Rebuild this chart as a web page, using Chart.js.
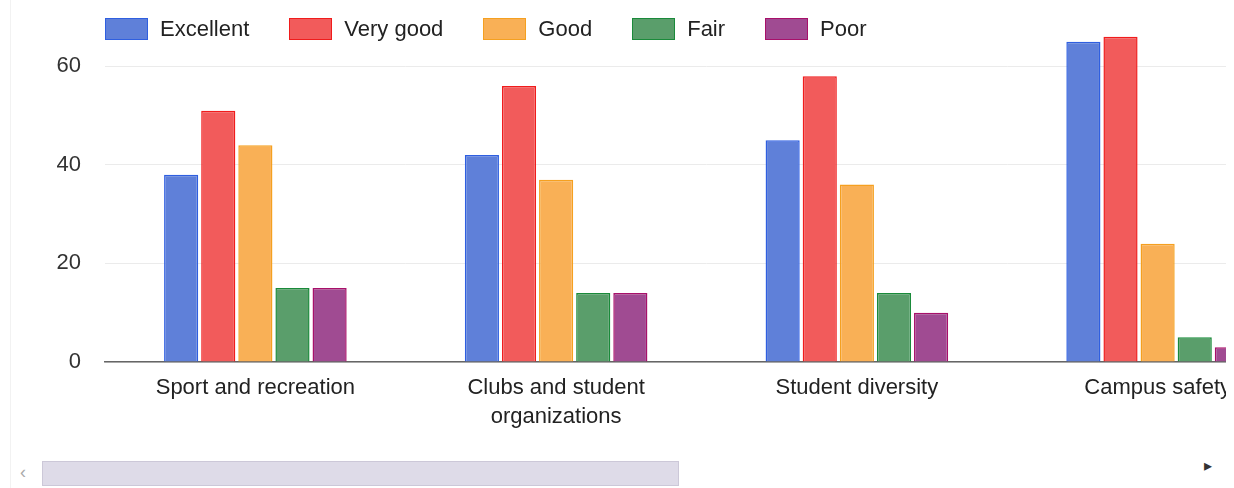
<!DOCTYPE html>
<html>
<head>
<meta charset="utf-8">
<script src="https://cdn.jsdelivr.net/npm/chart.js@4/dist/chart.umd.min.js"></script>
<style>
    html, body { margin: 0; padding: 0; background: #fff; }
    body { width: 1234px; height: 488px; position: relative; overflow: hidden; font-family: "Liberation Sans", Arial, sans-serif; }
    #viewport { position: absolute; left: 0; top: 0; width: 1226px; height: 440px; overflow: hidden; }
    #legend { position: absolute; left: 105px; top: 16px; display: flex; align-items: center; z-index: 2; font-size: 22px; color: #222; }
    .item { display: flex; align-items: center; margin-right: 40px; }
    .swatch { width: 41px; height: 20px; margin-right: 12px; border: 1px solid; }
    #thumb { position: absolute; left: 42px; top: 461px; width: 635px; height: 23px; background: #dedbe8; border: 1px solid #ccc8d8; }
    #left { position: absolute; left: 20px; top: 462px; font-size: 18px; color: #aaa; }
    #right { position: absolute; left: 1204px; top: 456px; font-size: 16px; color: #333; }
    #edge { position: absolute; left: 10px; top: 0; width: 1px; height: 488px; background: #f2f2f2; }
</style>
</head>
<body>
<div id="edge"></div>
<div id="viewport">
    <canvas id="barChart" width="1320" height="440"></canvas>
</div>
<div id="legend"></div>
<div id="thumb"></div>
<div id="left">&lsaquo;</div>
<div id="right">&#9656;</div>
<script>
var categories = ['Sport and recreation', ['Clubs and student', 'organizations'], 'Student diversity', 'Campus safety'];
var seriesNames = ['Excellent', 'Very good', 'Good', 'Fair', 'Poor'];
var excellent = [38, 42, 45, 65];
var veryGood = [51, 56, 58, 66];
var good = [44, 37, 36, 24];
var fair = [15, 14, 14, 5];
var poor = [15, 14, 10, 3];
var yTicks = [0, 20, 40, 60];

var fills = ['#5f80d9', '#f25b5b', '#f9b056', '#5a9e6b', '#a04b92'];
var borders = ['#2f5fe0', '#f01c1c', '#f5a020', '#1a8a3a', '#a8106a'];
var values = [excellent, veryGood, good, fair, poor];

var datasets = seriesNames.map(function (name, i) {
    return {
        label: name,
        data: values[i],
        backgroundColor: fills[i],
        borderColor: borders[i],
        borderWidth: 1.5,
        categoryPercentage: 0.617,
        barPercentage: 0.92
    };
});

// legend drawn as html so it can sit over the top of the plot
var legend = document.getElementById('legend');
seriesNames.forEach(function (name, i) {
    var item = document.createElement('div');
    item.className = 'item';
    item.innerHTML = '<div class="swatch" style="background:' + fills[i] + ';border-color:' + borders[i] + '"></div><span>' + name + '</span>';
    legend.appendChild(item);
});

var font = { family: '"Liberation Sans", Arial, sans-serif', size: 22, lineHeight: 1.3 };

new Chart(document.getElementById('barChart'), {
    type: 'bar',
    data: { labels: categories, datasets: datasets },
    options: {
        responsive: false,
        animation: false,
        layout: { padding: { top: 17, right: 12, left: 0, bottom: 0 } },
        plugins: { legend: { display: false }, tooltip: { enabled: false } },
        scales: {
            x: {
                grid: { display: false, drawTicks: false },
                border: { color: '#666', width: 1.5 },
                ticks: { color: '#222', font: font, padding: 12, maxRotation: 0, autoSkip: false },
                afterFit: function (scale) { scale.height = 78; }
            },
            y: {
                min: 0,
                max: 70,
                grid: { color: '#ebebeb', drawTicks: false },
                border: { display: false },
                ticks: { color: '#333', font: font, padding: 24, stepSize: 20 },
                afterBuildTicks: function (scale) {
                    scale.ticks = yTicks.map(function (v) { return { value: v }; });
                },
                afterFit: function (scale) {
                    scale.width = 105;
                    scale.paddingTop = 0;
                    scale.paddingBottom = 0;
                }
            }
        }
    }
});
</script>
</body>
</html>
